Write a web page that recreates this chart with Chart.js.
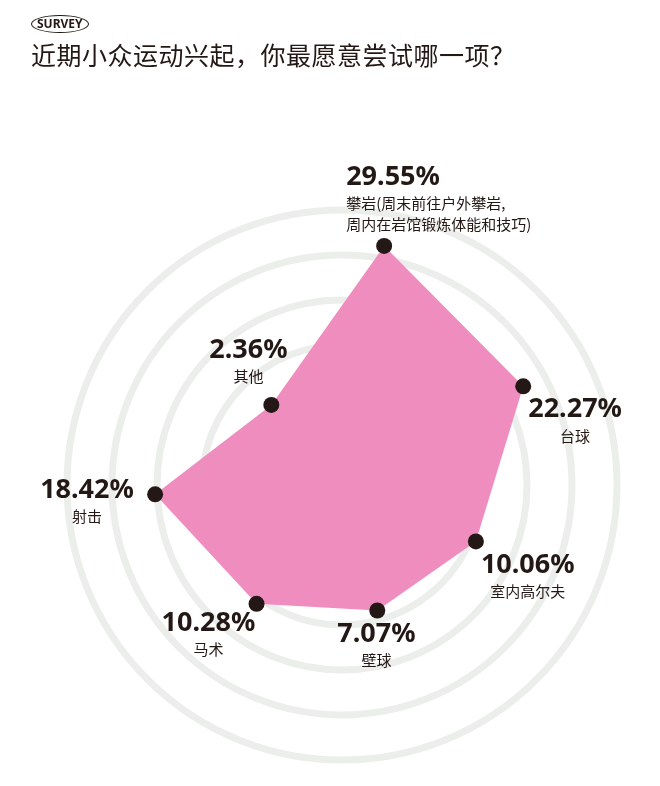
<!DOCTYPE html>
<html>
<head>
<meta charset="utf-8">
<script src="https://cdn.jsdelivr.net/npm/chart.js@4"></script>
<style>
  body { margin: 0; background: #fff; width: 660px; height: 786px; overflow: hidden; font-family: "Noto Sans CJK SC", "Noto Sans", sans-serif; }
  #badge { position: absolute; left: 31px; top: 15px; padding: 0 5px; border: 1.5px solid #231815; border-radius: 50%; font: bold 12px "Noto Sans", sans-serif; color: #231815; line-height: 16px; }
  #title { position: absolute; left: 31px; top: 36px; font-size: 25px; color: #231815; letter-spacing: 0.5px; }
  #radar { position: absolute; left: 0; top: 0; }
</style>
</head>
<body>
<canvas id="radar" width="660" height="786"></canvas>
<div id="badge">SURVEY</div>
<div id="title">近期小众运动兴起，你最愿意尝试哪一项？</div>
<script>
const categories = ["攀岩(周末前往户外攀岩,\n周内在岩馆锻炼体能和技巧)", "台球", "室内高尔夫", "壁球", "马术", "射击", "其他"];
const shares = [29.55, 22.27, 10.06, 7.07, 10.28, 18.42, 2.36];
// label placement relative to each point: [dx, dy]
const labelOffsets = [[-38, -82], [5, 10], [5, 10], [-40, 10], [-95, 6], [-115, -18], [-62, -68]];

const labelPlugin = {
  id: "labels",
  afterDatasetsDraw(chart) {
    const ctx = chart.ctx;
    const scale = chart.scales.r;
    ctx.save();
    shares.forEach((v, i) => {
      const pos = scale.getPointPositionForValue(i, v);
      const [dx, dy] = labelOffsets[i];
      const x = pos.x + dx, y = pos.y + dy;
      const num = v.toFixed(2) + "%";
      ctx.fillStyle = "#231815";
      ctx.textAlign = "left";
      ctx.textBaseline = "top";
      ctx.font = "bold 27px 'Noto Sans', sans-serif";
      const numW = ctx.measureText(num).width;
      ctx.fillText(num, x, y);
      ctx.font = "15px 'Noto Sans CJK SC', sans-serif";
      const lines = categories[i].split("\n");
      const nameW = ctx.measureText(lines[0]).width;
      lines.forEach((ln, k) => {
        const lx = lines.length > 1 ? x : x + (numW - nameW) / 2;
        ctx.fillText(ln, lx, y + 32 + k * 21);
      });
    });
    ctx.restore();
  }
};

new Chart(document.getElementById("radar"), {
  type: "radar",
  data: {
    labels: categories,
    datasets: [{
      data: shares,
      backgroundColor: "#f08dbf",
      borderWidth: 0,
      pointBackgroundColor: "#231815",
      pointBorderWidth: 0,
      pointRadius: 8
    }]
  },
  options: {
    responsive: false,
    animation: false,
    layout: { padding: { left: 67, right: 43, top: 210, bottom: 26 } },
    plugins: { legend: { display: false }, tooltip: { enabled: false } },
    scales: {
      r: {
        min: -19,
        max: 36,
        startAngle: 10,
        ticks: { display: false, stepSize: 9 },
        pointLabels: { display: false },
        angleLines: { display: false },
        grid: {
          circular: true,
          lineWidth: 7,
          color: c => (c.tick && c.tick.value >= 9 ? "#eceeec" : "rgba(0,0,0,0)")
        }
      }
    }
  },
  plugins: [labelPlugin]
});
</script>
</body>
</html>
